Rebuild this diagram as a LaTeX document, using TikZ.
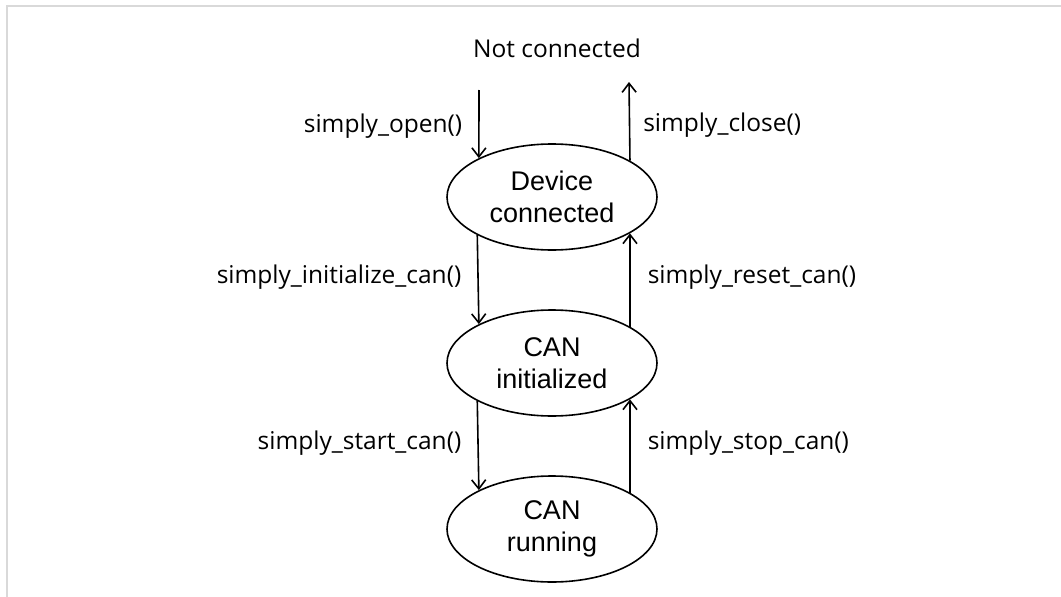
\documentclass[tikz,border=0pt]{standalone}
\usepackage{fontspec}
\setmainfont{Open Sans}
\newfontfamily\arialfont{Liberation Sans}
\usetikzlibrary{shapes.geometric,arrows.meta}
\tikzset{
  state/.style={ellipse,draw,line width=1.6pt,minimum width=210pt,minimum height=106pt,
    inner sep=0pt,align=center,font=\arialfont\fontsize{27}{32}\selectfont},
  call/.style={font=\fontsize{24.5}{29}\selectfont,inner sep=0pt},
  trans/.style={-{Straight Barb[length=9pt,width=14pt]},line width=1.6pt}
}
\begin{document}
\begin{tikzpicture}[x=1pt,y=-1pt]
  \useasboundingbox (0,0) rectangle (1061,597);
  \draw[black!15,line width=1.5pt] (7,597) -- (7,6) -- (1061,6);
  \draw
    (557,48) node[call] (nc){Not connected}
    (552,197) node[state] (dev){Device\\connected}
    (552,363) node[state] (ini){CAN\\initialized}
    (552,529) node[state] (run){CAN\\running};
  \coordinate (open) at (479,90);
  \coordinate (close) at (629,82);
  \begin{scope}[trans]
    \draw (open) to node[call,anchor=east,xshift=-16pt,yshift=-2pt] {simply\_open()} (dev.152.5);
    \draw (dev.25) to node[call,anchor=west,xshift=13pt,yshift=-4pt] {simply\_close()} (close);
    \draw (dev.207.5) to node[call,anchor=east,xshift=-16pt,yshift=2pt] {simply\_initialize\_can()} (ini.152.5);
    \draw (ini.25) to node[call,anchor=west,xshift=17pt,yshift=3pt] {simply\_reset\_can()} (dev.335);
    \draw (ini.207.5) to node[call,anchor=east,xshift=-16pt,yshift=2pt] {simply\_start\_can()} (run.152.5);
    \draw (run.25) to node[call,anchor=west,xshift=17pt,yshift=3pt] {simply\_stop\_can()} (ini.335);
  \end{scope}
\end{tikzpicture}
\end{document}
